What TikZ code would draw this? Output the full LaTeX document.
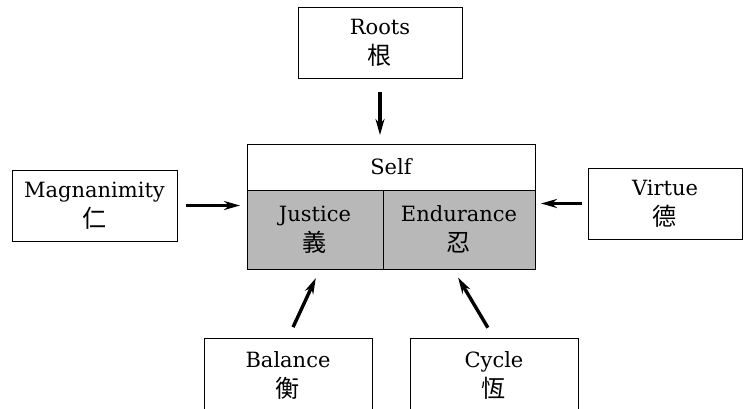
\documentclass[tikz,border=0pt]{standalone}
\usepackage{fontspec}
\setmainfont{DejaVu Serif}
\newfontfamily\cjk[Scale=1.15]{Noto Sans CJK TC}
\usetikzlibrary{calc,arrows.meta}

\tikzset{
    box/.style={draw, line width=.5pt, inner sep=0pt, outer sep=0pt, align=center,
        font=\fontsize{10.5}{15}\selectfont},
    part/.style={box, fill=black!28},
    push/.style={-{Stealth[length=8pt,width=4.5pt]}, line width=1.7pt}
}

\begin{document}
\begin{tikzpicture}[x=.5pt, y=-.5pt]
    \useasboundingbox (0, 0) rectangle (744, 408);
    \clip (0, 0) rectangle (744, 408);

    % centre: self over justice / endurance
    \node[box, minimum width=144pt, minimum height=23pt] (self) at (391, 167) {Self};
    \node[part, minimum width=68pt, minimum height=39.5pt] (justice) at (315, 229.5) {Justice\\{\cjk 義}};
    \node[part, minimum width=76pt, minimum height=39.5pt] (endurance) at (459, 229.5) {Endurance\\{\cjk 忍}};

    % outer boxes
    \node[box, minimum width=82pt, minimum height=35.5pt] (roots) at (380, 42.5) {Roots\\{\cjk 根}};
    \node[box, minimum width=82.5pt, minimum height=35.5pt] (magn) at (94.5, 205.5) {Magnanimity\\{\cjk 仁}};
    \node[box, minimum width=77pt, minimum height=35.5pt] (virtue) at (665, 203.5) {Virtue\\{\cjk 德}};
    \node[box, minimum width=84pt, minimum height=37pt] (balance) at (288, 375) {Balance\\{\cjk 衡}};
    \node[box, minimum width=84pt, minimum height=37pt] (cycle) at (494, 375) {Cycle\\{\cjk 恆}};

    \draw[push, shorten <=7pt, shorten >=4.5pt] (roots) -- (roots |- self.north);
    \draw[push, shorten <=4.5pt, shorten >=3.5pt] (magn) -- (magn -| justice.west);
    \draw[push, shorten <=3pt, shorten >=3pt] (virtue) -- (virtue -| endurance.east);
    \draw[push, shorten <=6pt, shorten >=5pt] (balance.north) -- ($ (justice.south) + (5, 0) $);
    \draw[push, shorten <=6pt, shorten >=5pt] (cycle.north) -- ($ (endurance.south) + (-6, 0) $);
\end{tikzpicture}
\end{document}
